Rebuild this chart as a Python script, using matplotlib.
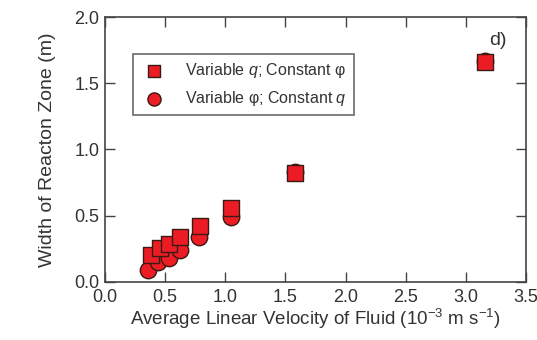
import matplotlib.pyplot as plt

plt.rcParams['font.family'] = ['Liberation Sans', 'DejaVu Sans']
plt.rcParams['mathtext.fontset'] = 'custom'
plt.rcParams['mathtext.rm'] = 'Liberation Sans'
plt.rcParams['mathtext.it'] = 'Liberation Sans:italic'

# average linear velocity (1e-3 m/s) and reaction-zone width (m)
vel_q = [0.38, 0.46, 0.53, 0.625, 0.79, 1.05, 1.58, 3.16]
width_q = [0.20, 0.26, 0.29, 0.34, 0.42, 0.56, 0.82, 1.66]
vel_phi = [0.36, 0.44, 0.53, 0.625, 0.78, 1.05, 1.58, 3.16]
width_phi = [0.09, 0.15, 0.18, 0.24, 0.34, 0.49, 0.83, 1.67]

xticks = [0.0, 0.5, 1.0, 1.5, 2.0, 2.5, 3.0, 3.5]
yticks = [0.0, 0.5, 1.0, 1.5, 2.0]

fig = plt.figure(figsize=(5.37, 3.4), dpi=100)
ax = fig.add_axes([0.1955, 0.1706, 0.784, 0.7794])

red = '#ec1c24'
edge = '#3a1a14'
ax.scatter(vel_phi, width_phi, s=140, marker='o', color=red, edgecolors=edge,
           linewidths=1.0, zorder=2, label='Variable φ; Constant $q$')
ax.scatter(vel_q, width_q, s=125, marker='s', color=red, edgecolors=edge,
           linewidths=1.0, zorder=3, label='Variable $q$; Constant φ')

ax.set_xlim(0, 3.5)
ax.set_ylim(0, 2.0)
ax.set_xticks(xticks)
ax.set_yticks(yticks)
ax.set_xticklabels(['%.1f' % t for t in xticks])
ax.set_yticklabels(['%.1f' % t for t in yticks])
ax.tick_params(direction='in', length=7, width=1, top=True, right=True,
               colors='#444444', labelsize=13, labelcolor='#333333')
ax.tick_params(axis='x', pad=5)
ax.tick_params(axis='y', pad=4)
for s in ax.spines.values():
    s.set_color('#444444')
    s.set_linewidth(1.2)

ax.set_xlabel('Average Linear Velocity of Fluid (10$^{-3}$ m s$^{-1}$)',
              fontsize=13.5, color='#333333', labelpad=1)
ax.set_ylabel('Width of Reacton Zone (m)', fontsize=14, color='#333333', labelpad=13)

ax.text(3.27, 1.82, 'd)', fontsize=14, color='#333333', ha='center', va='center')

handles, labels = ax.get_legend_handles_labels()
leg = ax.legend(handles[::-1], labels[::-1], loc='upper left',
                bbox_to_anchor=(0.066, 0.86), fontsize=11.5, frameon=True,
                fancybox=False, edgecolor='#444444', markerscale=0.8,
                handletextpad=1.0, borderpad=0.45, labelspacing=0.55,
                handlelength=1.8, borderaxespad=0)
leg.get_frame().set_linewidth(1.2)
for t in leg.get_texts():
    t.set_color('#333333')

fig.savefig('out.png', dpi=100)
